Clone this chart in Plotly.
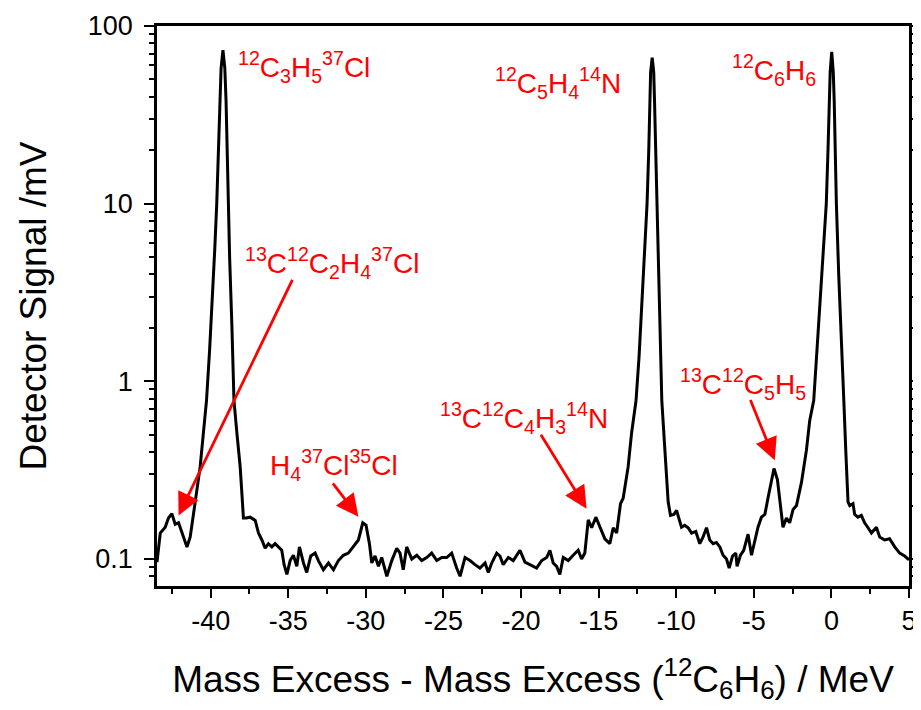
import plotly.graph_objects as go
import numpy as np

# Mass excess (MeV) relative to 12C6H6
x_mev = [
    -43.46, -43.25, -42.93, -42.72, -42.50, -42.29, -42.07, -41.86, -41.71, -41.53,
    -41.32, -41.13, -41.00, -40.68, -40.27, -40.07, -39.88,
    -39.74, -39.61, -39.50, -39.42, -39.33, -39.21, -39.09, -39.01, -38.94, -38.89,
    -38.78,
    -38.63, -38.50, -38.30, -38.10, -37.97, -37.89,
    -37.71, -37.46, -37.13, -36.92, -36.70, -36.49, -36.28, -36.06, -35.85, -35.63,
    -35.42, -35.27, -35.09, -34.88, -34.67, -34.45, -34.28, -34.02, -33.81, -33.55,
    -33.27, -33.06, -32.74, -32.41, -32.09, -31.77, -31.45, -31.13, -30.80, -30.48,
    -30.20, -29.99, -29.77, -29.62, -29.41, -29.19, -28.98, -28.65, -28.33, -28.01,
    -27.80, -27.59, -27.37, -27.04, -26.72, -26.40, -26.08, -25.76, -25.43, -25.11,
    -24.79, -24.47, -24.15, -23.93,
    -23.61, -23.29, -22.97, -22.65, -22.32, -22.11, -21.89, -21.57, -21.36, -21.15,
    -20.82, -20.50, -20.07, -19.75, -19.43, -19.00, -18.67, -18.35, -18.14, -17.93,
    -17.71, -17.50, -17.28, -16.96, -16.64, -16.32, -16.10, -15.89, -15.67, -15.45,
    -15.18, -14.92, -14.60, -14.28, -14.06, -13.84, -13.59, -13.42, -13.10, -12.88,
    -12.59, -12.39, -12.20,
    -12.02, -11.88, -11.77, -11.69, -11.65, -11.55, -11.45, -11.40, -11.32, -11.27,
    -11.14,
    -11.04, -10.93, -10.73, -10.52, -10.37,
    -10.15, -9.98, -9.81, -9.66, -9.45, -9.23, -9.01, -8.74, -8.48, -8.27,
    -8.05, -7.84, -7.62, -7.41, -7.19, -6.98, -6.76, -6.59, -6.37, -6.16,
    -6.08, -5.86, -5.65, -5.37, -5.15, -4.94, -4.73, -4.51, -4.29, -4.08,
    -3.86, -3.70, -3.48, -3.28, -3.12, -2.90, -2.69, -2.47, -2.25, -1.93,
    -1.61, -1.40, -1.14, -0.93, -0.74,
    -0.55, -0.33, -0.22, -0.14, -0.08, 0.02, 0.12, 0.18, 0.25, 0.32,
    0.47,
    0.63, 0.80, 0.93, 1.07, 1.18, 1.39,
    1.50, 1.71, 1.93, 2.14, 2.36, 2.58, 2.90, 3.11, 3.43, 3.75,
    4.08, 4.40, 4.72, 5.00,
]

# Detector signal (mV)
signal_mv = [
    0.096, 0.140, 0.151, 0.170, 0.180, 0.157, 0.160, 0.143, 0.130, 0.117,
    0.133, 0.170, 0.209, 0.330, 0.780, 1.5, 3.0,
    5.5, 10.0, 20.0, 38.0, 58.0, 73.0, 58.0, 38.0, 20.0, 10.0,
    5.0,
    2.0, 0.780, 0.500, 0.330, 0.220, 0.170,
    0.170, 0.172, 0.165, 0.140, 0.128, 0.115, 0.122, 0.117, 0.122, 0.117,
    0.112, 0.093, 0.082, 0.098, 0.105, 0.091, 0.117, 0.095, 0.084, 0.104,
    0.108, 0.098, 0.087, 0.095, 0.087, 0.098, 0.105, 0.108, 0.117, 0.128,
    0.160, 0.155, 0.122, 0.095, 0.104, 0.091, 0.102, 0.080, 0.098, 0.115,
    0.108, 0.087, 0.117, 0.100, 0.105, 0.098, 0.102, 0.108, 0.098, 0.102,
    0.102, 0.108, 0.089, 0.080,
    0.102, 0.098, 0.093, 0.089, 0.095, 0.084, 0.095, 0.108, 0.104, 0.093,
    0.102, 0.098, 0.112, 0.096, 0.093, 0.089, 0.098, 0.102, 0.112, 0.095,
    0.091, 0.082, 0.102, 0.098, 0.105, 0.112, 0.100, 0.108, 0.166, 0.150,
    0.172, 0.150, 0.130, 0.122, 0.150, 0.140, 0.205, 0.220, 0.330, 0.510,
    0.780, 1.4, 2.8,
    5.5, 10.0, 20.0, 38.0, 55.0, 66.4, 55.0, 38.0, 20.0, 10.0,
    4.5,
    2.0, 0.780, 0.410, 0.210, 0.176,
    0.178, 0.188, 0.166, 0.151, 0.155, 0.150, 0.140, 0.143, 0.122, 0.133,
    0.150, 0.128, 0.122, 0.124, 0.117, 0.105, 0.100, 0.089, 0.104, 0.108,
    0.091, 0.105, 0.112, 0.138, 0.105, 0.128, 0.151, 0.172, 0.178, 0.222,
    0.280, 0.323, 0.280, 0.200, 0.151, 0.170, 0.160, 0.190, 0.200, 0.270,
    0.410, 0.600, 0.780, 1.5, 2.8,
    5.0, 10.0, 20.0, 38.0, 55.0, 71.4, 55.0, 38.0, 20.0, 10.0,
    4.0,
    1.6, 0.780, 0.400, 0.210, 0.200, 0.205,
    0.178, 0.172, 0.176, 0.160, 0.150, 0.140, 0.151, 0.133, 0.128, 0.130,
    0.117, 0.108, 0.104, 0.099,
]

# Peak labels: text, left x (MeV), y (mV)
label_texts = [
    "<sup>12</sup>C<sub>3</sub>H<sub>5</sub><sup>37</sup>Cl",
    "<sup>12</sup>C<sub>5</sub>H<sub>4</sub><sup>14</sup>N",
    "<sup>12</sup>C<sub>6</sub>H<sub>6</sub>",
    "<sup>13</sup>C<sup>12</sup>C<sub>2</sub>H<sub>4</sub><sup>37</sup>Cl",
    "H<sub>4</sub><sup>37</sup>Cl<sup>35</sup>Cl",
    "<sup>13</sup>C<sup>12</sup>C<sub>4</sub>H<sub>3</sub><sup>14</sup>N",
    "<sup>13</sup>C<sup>12</sup>C<sub>5</sub>H<sub>5</sub>",
]
label_x = [-38.4, -21.83, -6.55, -37.9, -36.29, -25.35, -9.90]
label_y = [58.6, 47.9, 56.2, 4.62, 0.337, 0.619, 0.964]

# Arrows: tail (x, y) -> tip (x, y)
arrow_tail_x = [-34.69, -32.20, -18.78, -5.26]
arrow_tail_y = [3.80, 0.272, 0.51, 0.80]
arrow_tip_x = [-42.07, -30.48, -15.78, -3.65]
arrow_tip_y = [0.176, 0.173, 0.192, 0.360]

x_ticks = [-40, -35, -30, -25, -20, -15, -10, -5, 0, 5]
x_ticktext = ["-40", "-35", "-30", "-25", "-20", "-15", "-10", "-5", "0", "5"]
y_ticks = [0.1, 1, 10, 100]
y_ticktext = ["0.1", "1", "10", "100"]
y_minor_ticks = [0.08, 0.09,
                 0.2, 0.3, 0.4, 0.5, 0.6, 0.7, 0.8, 0.9,
                 2, 3, 4, 5, 6, 7, 8, 9,
                 20, 30, 40, 50, 60, 70, 80, 90]

FONT = "Liberation Sans, Arial, sans-serif"
RED = "#ff0000"

fig = go.Figure()
fig.add_trace(go.Scatter(
    x=x_mev, y=signal_mv, mode="lines",
    line=dict(color="black", width=3),
    showlegend=False, hoverinfo="skip",
))

annotations = []
for t, lx, ly in zip(label_texts, label_x, label_y):
    annotations.append(dict(
        x=lx, y=np.log10(ly), xref="x", yref="y", text=t,
        showarrow=False, xanchor="left", yanchor="middle",
        font=dict(family=FONT, size=28, color=RED),
    ))
for tx, ty, hx, hy in zip(arrow_tail_x, arrow_tail_y, arrow_tip_x, arrow_tip_y):
    annotations.append(dict(
        x=hx, y=np.log10(hy), xref="x", yref="y",
        ax=tx, ay=np.log10(ty), axref="x", ayref="y",
        text="", showarrow=True, arrowhead=2, arrowsize=1.6,
        arrowwidth=2.8, arrowcolor=RED, standoff=0,
    ))

# The page body adds an 8px margin, so the figure is 8px smaller
fig.update_layout(
    width=913, height=702,
    margin=dict(l=149, r=12, t=18, b=124, autoexpand=False),
    paper_bgcolor="white", plot_bgcolor="white",
    font=dict(family=FONT, size=27, color="black"),
    annotations=annotations,
)

fig.update_xaxes(
    range=[-43.46, 5.0], automargin=False,
    tickvals=x_ticks, ticktext=x_ticktext,
    ticks="outside", ticklen=9, tickwidth=2, tickcolor="black",
    minor=dict(dtick=2.5, ticks="outside", ticklen=5, tickwidth=1.5, tickcolor="black"),
    showline=True, linecolor="black", linewidth=2.5, mirror=True,
    showgrid=False, zeroline=False,
    tickfont=dict(family=FONT, size=27),
    title=dict(
        text="Mass Excess - Mass Excess (<sup>12</sup>C<sub>6</sub>H<sub>6</sub>) / MeV",
        font=dict(family=FONT, size=37), standoff=31,
    ),
)
fig.update_yaxes(
    type="log", range=[np.log10(0.0705), 2.0], automargin=False,
    tickvals=y_ticks, ticktext=y_ticktext,
    ticks="outside", ticklen=10, tickwidth=2, tickcolor="black",
    ticklabelstandoff=6,
    minor=dict(tickvals=y_minor_ticks, ticks="outside", ticklen=5, tickwidth=1.5,
               tickcolor="black", showgrid=False),
    showline=True, linecolor="black", linewidth=2.5, mirror="ticks",
    showgrid=False, zeroline=False,
    tickfont=dict(family=FONT, size=27),
    title=dict(text="Detector Signal /mV", font=dict(family=FONT, size=37), standoff=30),
)

fig.write_html("out.html")
